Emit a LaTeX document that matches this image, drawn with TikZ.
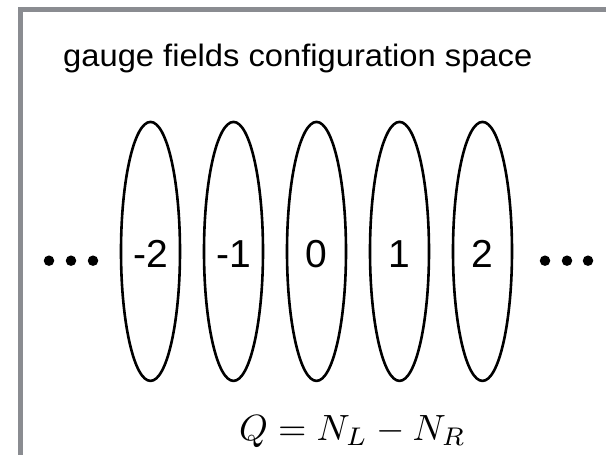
\documentclass[tikz,border=0pt]{standalone}
\usepackage{fontspec}
\newfontfamily\helv{Liberation Sans}
\usetikzlibrary{shapes.geometric}
\definecolor{framegray}{RGB}{138,140,145}
\tikzset{
  frameline/.style={draw=framegray, line width=4.4pt},
  ell/.style={draw, ellipse, line width=2.6pt, minimum width=59pt, minimum height=259pt, inner sep=0pt},
  num/.style={font=\helv\fontsize{39}{46}\selectfont, inner sep=0pt},
  dotnode/.style={circle, fill=black, minimum size=10.5pt, inner sep=0pt},
}
\begin{document}
\begin{tikzpicture}[x=1pt,y=-1pt]
\useasboundingbox (0,0) rectangle (606,455);
\coordinate (fb) at (20.5,455);
\coordinate (fc) at (20.5,9.5);
\coordinate (fr) at (606,9.5);
\draw[frameline] (fb) -- (fc) -- (fr);
\node[anchor=base west, inner sep=0pt] (title) at (63,66) {\helv\fontsize{31}{37}\selectfont\scalebox{1.055}[1]{gauge fields configuration space}};
\foreach \i/\t [count=\k from 0] in {m2/-2,m1/-1,z/0,p1/1,p2/2}{
  \node[ell] (e\i) at (150.5+83*\k,251.4) {};
  \node[num] (l\i) at ([yshift=-2.6pt]e\i.center) {\t};
}
\node[dotnode] (dl1) at (49,260.7) {};
\node[dotnode] (dl2) at (71,260.7) {};
\node[dotnode] (dl3) at (93,260.7) {};
\node[dotnode] (dr1) at (545,260.7) {};
\node[dotnode] (dr2) at (567,260.7) {};
\node[dotnode] (dr3) at (588,260.7) {};
\node[anchor=base west, inner sep=0pt] (eq) at (239,440) {\scalebox{3.65}{$Q=N_L-N_R$}};
\end{tikzpicture}
\end{document}
